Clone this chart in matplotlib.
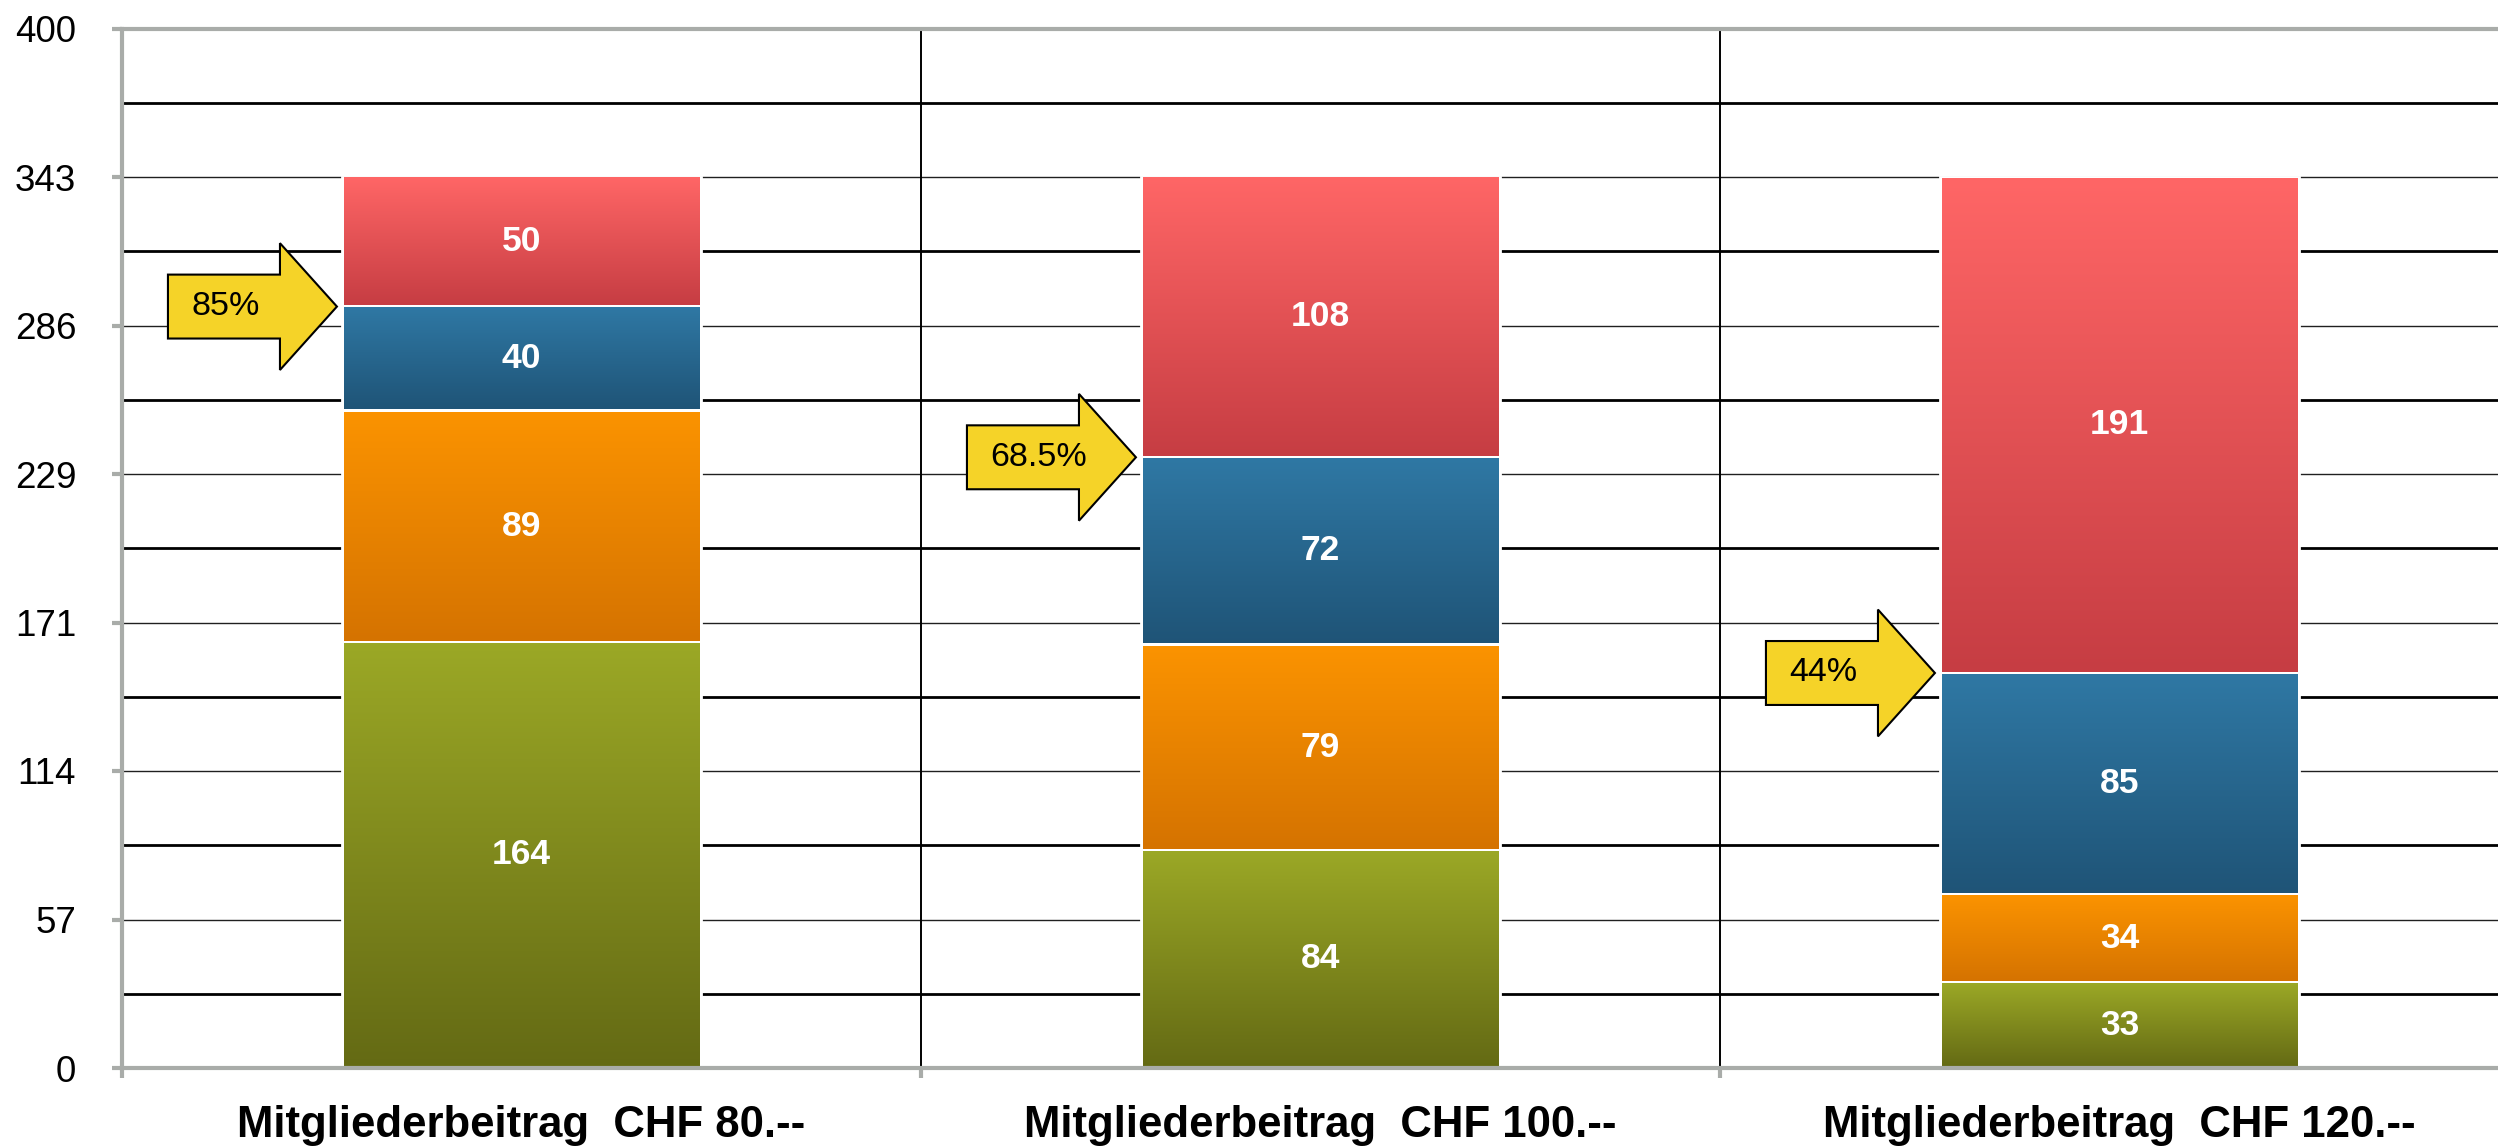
import numpy as np
import matplotlib
matplotlib.use("Agg")
import matplotlib.pyplot as plt
from matplotlib.colors import LinearSegmentedColormap
from matplotlib.patches import Polygon

categories = ["Mitgliederbeitrag  CHF 80.--", "Mitgliederbeitrag  CHF 100.--",
              "Mitgliederbeitrag  CHF 120.--"]
green = [164, 84, 33]
orange = [89, 79, 34]
blue = [40, 72, 85]
red = [50, 108, 191]
arrow_labels = ["85%", "68.5%", "44%"]
tick_values = [0, 400 / 7, 800 / 7, 1200 / 7, 1600 / 7, 2000 / 7, 2400 / 7, 400]
tick_labels = ["0", "57", "114", "171", "229", "286", "343", "400"]

# (top, bottom) colours of each segment's vertical gradient
gradients = [("#9ba826", "#646a14"), ("#fb9300", "#d57300"),
             ("#2f78a4", "#1f5477"), ("#ff6666", "#c63d43")]

plt.rcParams["font.family"] = ["Liberation Sans", "DejaVu Sans"]
GREY = "#a9aca9"

fig = plt.figure(figsize=(24.98, 11.47), dpi=100)
ax = fig.add_axes([122 / 2498, 1 - 1068 / 1147, 2397 / 2498, (1068 - 28.5) / 1147])
ax.set_xlim(0, 3)
ax.set_ylim(0, 400)

# grid: thin lines at labelled ticks, heavier lines half-way between
for i, t in enumerate(tick_values[:-1]):
    if i > 0:
        ax.axhline(t, color="#202020", lw=1.0, zorder=1)
    ax.axhline(t + 200 / 7, color="black", lw=2.0, zorder=1)
for xb in (1, 2):
    ax.axvline(xb, color="black", lw=1.4, zorder=1)

width = 0.45
dx_in = 2 / 799
dy_in = 1.2 / 2.6
series = [green, orange, blue, red]
bottom = np.zeros(3)
for vals, (c_top, c_bot) in zip(series, gradients):
    vals = np.array(vals, dtype=float)
    bars = ax.bar(np.arange(3) + 0.5, vals, width, bottom=bottom, color="white",
                  edgecolor="white", lw=2, zorder=2)
    cmap = LinearSegmentedColormap.from_list("g", [c_bot, c_top])
    grad = np.linspace(0, 1, 256).reshape(-1, 1)
    for b, v in zip(bars, vals):
        x0, y0 = b.get_x(), b.get_y()
        ax.imshow(grad, cmap=cmap, origin="lower", aspect="auto", zorder=3,
                  extent=[x0 + dx_in, x0 + b.get_width() - dx_in,
                          y0 + dy_in, y0 + b.get_height() - dy_in])
        ax.text(x0 + b.get_width() / 2, y0 + v / 2, f"{v:.0f}", color="white",
                fontsize=25.5, fontweight="bold", ha="center", va="center", zorder=4)
    bottom += vals

# yellow arrows pointing at the top of the blue segment
tips = np.array(green) + np.array(orange) + np.array(blue)
length, head_len = 0.2115, 0.0713
tail_h, head_h = 12.3, 24.4
for i, (tip_y, lab) in enumerate(zip(tips, arrow_labels)):
    tip_x = i + 0.5 - width / 2 - 0.006
    x_tail = tip_x - length
    x_neck = tip_x - head_len
    pts = [(x_tail, tip_y - tail_h), (x_tail, tip_y + tail_h), (x_neck, tip_y + tail_h),
           (x_neck, tip_y + head_h), (tip_x, tip_y), (x_neck, tip_y - head_h),
           (x_neck, tip_y - tail_h)]
    ax.add_patch(Polygon(pts, closed=True, facecolor="#f5d328", edgecolor="black",
                         lw=1.5, zorder=5))
    ax.text(x_tail + 0.029, tip_y, lab, fontsize=24.5, ha="left", va="center", zorder=6)

ax.set_yticks(tick_values, tick_labels, fontsize=26.5)
ax.set_xticks([0, 1, 2, 3], [])
ax.set_xticks([0.5, 1.5, 2.5], categories, minor=True, fontsize=31.5, fontweight="bold")
ax.tick_params(axis="y", length=7, width=3, color=GREY, pad=26)
ax.tick_params(axis="x", which="major", length=7, width=3, color=GREY)
ax.tick_params(axis="x", which="minor", length=0, pad=27)

for side in ("left", "bottom", "top"):
    ax.spines[side].set_color(GREY)
    ax.spines[side].set_linewidth(3)
    ax.spines[side].set_zorder(7)
ax.spines["right"].set_visible(False)

fig.savefig("out.png", dpi=100)
